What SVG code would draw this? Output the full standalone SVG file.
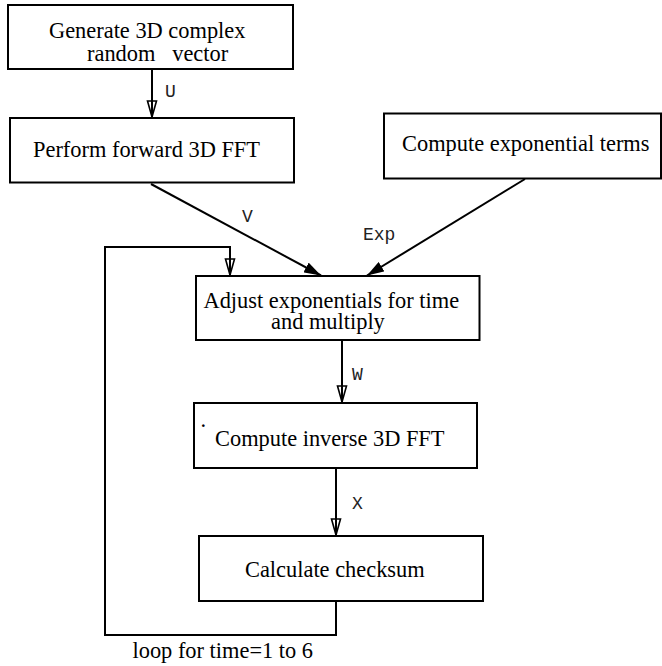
<svg xmlns="http://www.w3.org/2000/svg" width="662" height="666" viewBox="0 0 662 666">
  <style>
    .box { fill: #ffffff; stroke: #000000; stroke-width: 2; }
    .lbl { font-family: "Liberation Serif", "Times New Roman", serif; font-size: 22.4px; fill: #000000; }
    .var { font-family: "Liberation Mono", "Courier New", monospace; font-size: 18px; fill: #222222; }
    .edge { fill: none; stroke: #000000; stroke-width: 2; }
  </style>
  <defs>
    <!-- open head: the shaft stays visible through it -->
    <marker id="open" markerUnits="userSpaceOnUse" viewBox="-1 -1 19 12" markerWidth="19" markerHeight="12" refX="16" refY="5" orient="auto">
      <path d="M0,0.5 L16,5 L0,9.5 Z" fill="none" stroke="#000000" stroke-width="1.6" stroke-linejoin="miter"/>
    </marker>
    <marker id="solid" markerUnits="userSpaceOnUse" viewBox="0 0 18 11" markerWidth="18" markerHeight="11" refX="17" refY="5.5" orient="auto">
      <path d="M0,0 L17,5.5 L0,11 Z" fill="#000000"/>
    </marker>
  </defs>

  <rect width="662" height="666" fill="#ffffff"/>

  <g id="connectors">
    <line class="edge" x1="152" y1="69" x2="152" y2="117" marker-end="url(#open)"/>
    <line class="edge" x1="151" y1="184" x2="321" y2="275.5" marker-end="url(#solid)"/>
    <line class="edge" x1="525" y1="179" x2="367" y2="275.5" marker-end="url(#solid)"/>
    <line class="edge" x1="342" y1="340" x2="342" y2="402" marker-end="url(#open)"/>
    <line class="edge" x1="336" y1="468" x2="336" y2="535" marker-end="url(#open)"/>
    <!-- feedback loop back into the adjust step -->
    <path class="edge" d="M336,601 V635 H105 V247 H230 V275" marker-end="url(#open)"/>
    <text class="var" x="165" y="97">U</text>
    <text class="var" x="242" y="222">V</text>
    <text class="var" x="363" y="240">Exp</text>
    <text class="var" x="352" y="380">W</text>
    <text class="var" x="352" y="509">X</text>
    <text class="lbl" x="132.5" y="658">loop for time=1 to 6</text>
  </g>

  <g id="generate">
    <rect class="box" x="8" y="5" width="285" height="64"/>
    <text class="lbl" xml:space="preserve"><tspan x="49" y="38">Generate 3D complex</tspan><tspan x="87" y="61">random   vector</tspan></text>
  </g>

  <g id="forward-fft">
    <rect class="box" x="10" y="118" width="284" height="64.5"/>
    <text class="lbl" x="33" y="157">Perform forward 3D FFT</text>
  </g>

  <g id="exponentials">
    <rect class="box" x="384" y="113.5" width="277" height="65"/>
    <text class="lbl" x="402" y="151">Compute exponential terms</text>
  </g>

  <g id="adjust">
    <rect class="box" x="196" y="276" width="283.5" height="64"/>
    <text class="lbl"><tspan x="203.5" y="308">Adjust exponentials for time</tspan><tspan x="271" y="329">and multiply</tspan></text>
  </g>

  <g id="inverse-fft">
    <rect class="box" x="194" y="403" width="283" height="65"/>
    <text class="lbl" x="200.5" y="427" font-size="12">.</text>
    <text class="lbl" x="215" y="446">Compute inverse 3D FFT</text>
  </g>

  <g id="checksum">
    <rect class="box" x="199" y="536" width="284" height="65"/>
    <text class="lbl" x="245" y="577">Calculate checksum</text>
  </g>
</svg>
